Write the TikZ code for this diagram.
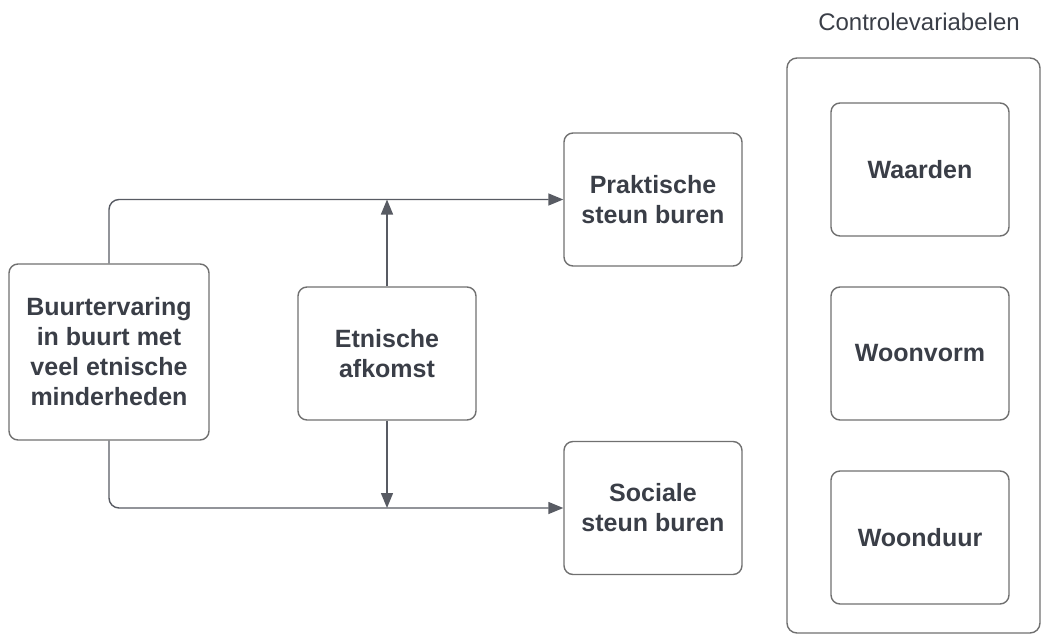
\documentclass[tikz,border=0pt]{standalone}
\usepackage{fontspec}
\setmainfont{Liberation Sans}
\usetikzlibrary{arrows.meta}

\definecolor{inkgray}{HTML}{3A3E47}
\definecolor{rimgray}{HTML}{707070}

\tikzset{
  varbox/.style={rectangle,draw=rimgray,line width=1.4pt,rounded corners=9pt,
    text=inkgray,align=center,font=\bfseries\fontsize{25}{30}\selectfont,
    minimum width=178pt,minimum height=133pt,inner sep=0pt},
  link/.style={draw=inkgray!85,line width=1.4pt,-{Triangle[length=15pt,width=12pt]}}
}

\begin{document}
\begin{tikzpicture}[x=1pt,y=-1pt]
\useasboundingbox (0,0) rectangle (1047,635);
\node (buurt) [varbox,minimum width=200pt,minimum height=176pt] at (109,352)
  {Buurtervaring\\in buurt met\\veel etnische\\minderheden};
\node (etnisch) [varbox] at (387,353.5) {Etnische\\afkomst};
\node (praktisch) [varbox] at (653,199.5) {Praktische\\steun buren};
\node (sociaal) [varbox] at (653,508) {Sociale\\steun buren};
\node (controle) [rectangle,draw=rimgray,line width=1.4pt,rounded corners=10pt,
  minimum width=253pt,minimum height=575pt] at (913.5,345.5) {};
\node (titel) [text=inkgray,font=\fontsize{24}{30}\selectfont] at (919,22) {Controlevariabelen};
\node (waarden) [varbox] at (920,169.5) {Waarden};
\node (woonvorm) [varbox] at (920,353.5) {Woonvorm};
\node (woonduur) [varbox] at (920,537.5) {Woonduur};
\draw [link,rounded corners=10pt] (buurt.north) |- (praktisch.west);
\draw [link,rounded corners=10pt] (buurt.south) |- (sociaal.west);
\draw [link] (etnisch.north) -- (etnisch.north |- praktisch.west);
\draw [link] (etnisch.south) -- (etnisch.south |- sociaal.west);
\end{tikzpicture}
\end{document}
